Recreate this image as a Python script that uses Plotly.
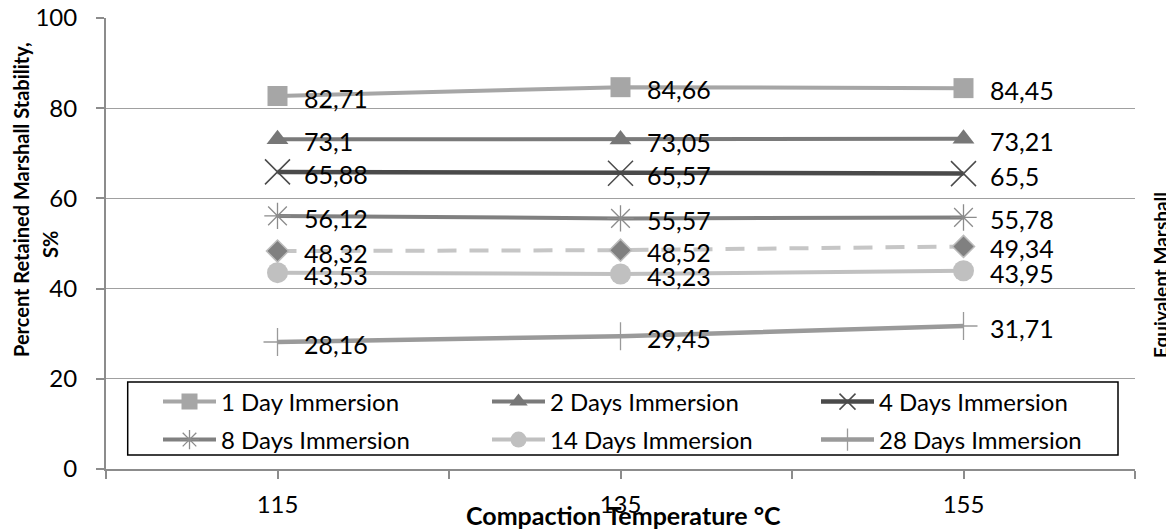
import plotly.graph_objects as go

temps = [115, 135, 155]
day1 = [82.71, 84.66, 84.45]
day2 = [73.1, 73.05, 73.21]
day4 = [65.88, 65.57, 65.5]
day8 = [56.12, 55.57, 55.78]
equiv = [48.32, 48.52, 49.34]
day14 = [43.53, 43.23, 43.95]
day28 = [28.16, 29.45, 31.71]

x_ticks = [105, 115, 125, 135, 145, 155, 165]
x_ticktext = ["", "115", "", "135", "", "155", ""]
y_ticks = [0, 20, 40, 60, 80, 100]

FONT = "Lato"
OFF = 8  # default page body margin
W, H = 1174 - OFF, 530 - OFF
# plot area in screen pixels: left 106, right 1135, top 18, bottom 469
ml, mt = 106 - OFF, 18 - OFF
mr = W - (1135 - OFF)
mb = H - (469 - OFF)
pw, ph = W - ml - mr, H - mt - mb


def px_x(sx):
    return (sx - OFF - ml) / pw


def px_y(sy):
    return (H - (sy - OFF) - mb) / ph


series = [
    dict(name="1 Day Immersion", y=day1, lc="#a6a6a6", mc="#a6a6a6", sym="square", size=20, lw=4, dash="solid", mlw=0, mlc="#a6a6a6", leg="legend"),
    dict(name="2 Days Immersion", y=day2, lc="#7a7a7a", mc="#777777", sym="triangle-up", size=19, lw=4, dash="solid", mlw=0, mlc="#777777", leg="legend"),
    dict(name="4 Days Immersion", y=day4, lc="#4a4a4a", mc="#4a4a4a", sym="x-thin-open", size=25, lw=4.5, dash="solid", mlw=1.5, mlc="#4a4a4a", leg="legend"),
    dict(name="8 Days Immersion", y=day8, lc="#808080", mc="#8c8c8c", sym="asterisk-open", size=22, lw=4, dash="solid", mlw=1.3, mlc="#8c8c8c", leg="legend2"),
    dict(name="Equivalent Marshall", y=equiv, lc="#c6c6c6", mc="#808080", sym="diamond", size=17, lw=4, dash="19px,13px", mlw=1.5, mlc="#bcbcbc", leg=None),
    dict(name="14 Days Immersion", y=day14, lc="#c0c0c0", mc="#c0c0c0", sym="circle", size=21, lw=4, dash="solid", mlw=0, mlc="#c0c0c0", leg="legend2"),
    dict(name="28 Days Immersion", y=day28, lc="#9a9a9a", mc="#9a9a9a", sym="cross-thin-open", size=20, lw=4.5, dash="solid", mlw=1.3, mlc="#9a9a9a", leg="legend2"),
]

fig = go.Figure()
for s in series:
    kw = dict(showlegend=s["leg"] is not None)
    if s["leg"]:
        kw["legend"] = s["leg"]
    fig.add_trace(go.Scatter(
        x=temps, y=s["y"], name=s["name"], mode="lines+markers",
        line=dict(color=s["lc"], width=s["lw"], dash=s["dash"]),
        marker=dict(symbol=s["sym"], size=s["size"], color=s["mc"],
                    line=dict(width=s["mlw"], color=s["mlc"])),
        **kw,
    ))

annotations = []
for s in series:
    for xv, yv in zip(temps, s["y"]):
        annotations.append(dict(
            x=xv, y=yv, xref="x", yref="y",
            text=f"{yv:g}".replace(".", ","),
            showarrow=False, xanchor="left", yanchor="middle",
            xshift=24, yshift=-2,
            font=dict(family=FONT, size=25, color="#000000"),
        ))

title_font = dict(family=FONT, color="#000000")
annotations += [
    dict(text="<b>Compaction Temperature °C</b>", x=px_x(623), y=px_y(515),
         font=dict(size=25, **title_font)),
    dict(text="<b>Percent Retained Marshall Stability,</b>", x=px_x(21), y=px_y(200),
         textangle=-90, font=dict(size=20, **title_font)),
    dict(text="<b>S%</b>", x=px_x(50), y=px_y(245), textangle=-90,
         font=dict(size=20, **title_font)),
    dict(text="<b>Equivalent Marshall</b>", x=px_x(1160), y=px_y(275), textangle=-90,
         font=dict(size=19, **title_font)),
]
for a in annotations[-4:]:
    a.update(xref="paper", yref="paper", showarrow=False, xanchor="center", yanchor="middle")

legend_common = dict(
    orientation="h", xanchor="left", yanchor="middle",
    bgcolor="rgba(0,0,0,0)", borderwidth=0,
    font=dict(family=FONT, size=24, color="#000000"),
    entrywidth=261, itemwidth=53,
)

fig.update_layout(
    width=W, height=H,
    margin=dict(l=ml, r=mr, t=mt, b=mb),
    paper_bgcolor="white", plot_bgcolor="white",
    font=dict(family=FONT, size=24, color="#000000"),
    annotations=annotations,
    shapes=[dict(type="rect", xref="paper", yref="paper",
                 x0=px_x(127.7), x1=px_x(1118), y0=px_y(455), y1=px_y(382),
                 line=dict(color="#000000", width=1.5), fillcolor="white", layer="above")],
    legend=dict(x=px_x(158), y=px_y(402), **legend_common),
    legend2=dict(x=px_x(158), y=px_y(440), **legend_common),
    xaxis=dict(
        range=[105, 165], tickmode="array", tickvals=x_ticks, ticktext=x_ticktext,
        showgrid=False, zeroline=False, showline=True, linecolor="#8c8c8c", linewidth=2,
        ticks="outside", ticklen=8, tickcolor="#8c8c8c", tickwidth=1.5,
        ticklabelstandoff=5, automargin=False, ticklabeloverflow="allow",
        tickfont=dict(family=FONT, size=24, color="#000000"),
    ),
    yaxis=dict(
        range=[0, 100], tickmode="array", tickvals=y_ticks,
        showgrid=True, gridcolor="#a0a0a0", gridwidth=1.2, zeroline=False,
        showline=True, linecolor="#8c8c8c", linewidth=2,
        ticks="outside", ticklen=8, tickcolor="#8c8c8c", tickwidth=1.5,
        ticklabelstandoff=14, automargin=False, ticklabeloverflow="allow",
        tickfont=dict(family=FONT, size=24, color="#000000"),
    ),
)

fig.write_html("out.html")
